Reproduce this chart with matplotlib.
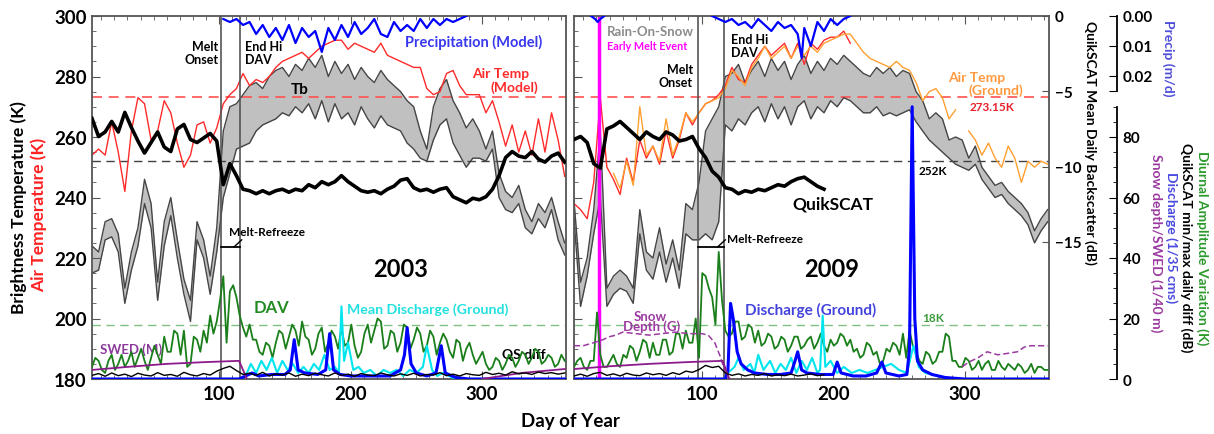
import numpy as np
import matplotlib
matplotlib.use('Agg')
import matplotlib.pyplot as plt
from matplotlib.ticker import MultipleLocator, FixedLocator

plt.rcParams['font.family'] = ['Lato', 'DejaVu Sans']
plt.rcParams['font.weight'] = 'bold'

nan = np.nan

# ---------------- data (5 day steps unless given) ----------------
days = np.arange(3, 364, 5)
days_half = np.arange(3, 364, 2.5)

# 2003
qs_03 = [-6.8, -8.0, -7.7, -7.0, -7.7, -6.4, -7.4, -8.3, -9.1, -8.4,
         -7.7, -8.7, -9.0, -7.5, -7.2, -8.2, -8.4, -8.1, -7.8, -8.3,
         -11.2, -9.8, -10.6, -11.5, -11.6, -11.8, -11.6, -11.8, -11.6, -11.5,
         -11.7, -11.5, -11.6, -11.2, -11.4, -11.0, -11.2, -11.0, -10.6, -11.0,
         -11.3, -11.6, -11.7, -11.6, -11.8, -11.5, -11.3, -10.9, -10.8, -11.4,
         -11.6, -11.5, -11.7, -11.5, -11.4, -12.0, -12.2, -12.4, -12.1, -12.2,
         -12.0, -11.5, -10.6, -9.4, -9.0, -9.3, -9.4, -9.0, -9.5, -9.7,
         -9.3, -9.1, -9.7]
air_03 = [254, 256, 254, 265, 255, 242, 262, 273, 271, 259,
          262, 272, 268, 258, 250, 254, 264, 265, 258, 263,
          271, 274, 276, 281, 277, 279, 278, 280, 283, 285,
          286, 287, 288, 286, 288, 290, 291, 292, 292, 289,
          291, 290, 289, 288, 291, 287, 286, 285, 284, 283,
          283, 276, 274, 275, 281, 282, 277, 274, 274, 274,
          268, 272, 265, 257, 264, 255, 262, 254, 266, 255,
          268, 259, 247]
tb_hi_03 = [224, 222, 232, 233, 228, 210, 222, 230, 246, 238,
            212, 232, 240, 226, 213, 206, 232, 226, 214, 230,
            262, 270, 271, 274, 277, 278, 276, 280, 282, 283,
            280, 284, 282, 286, 283, 287, 280, 285, 281, 284,
            279, 283, 280, 278, 282, 279, 277, 275, 272, 270,
            262, 256, 270, 276, 279, 272, 268, 263, 266, 262,
            256, 262, 248, 242, 240, 244, 236, 232, 238, 235,
            240, 232, 225]
tb_lo_03 = [215, 216, 226, 227, 222, 205, 216, 224, 238, 230,
            206, 224, 234, 220, 208, 199, 226, 220, 208, 222,
            240, 248, 256, 257, 258, 262, 264, 265, 266, 268,
            267, 270, 268, 271, 266, 272, 265, 271, 266, 268,
            264, 270, 266, 263, 267, 264, 263, 262, 258, 256,
            253, 252, 259, 264, 266, 258, 254, 250, 253, 253,
            252, 256, 240, 236, 235, 238, 230, 228, 233, 230,
            236, 226, 221]
# diurnal amplitude variation, 2.5 day steps
dav_03 = [4, 7, 6, 3, 2, 6, 8, 3, 5, 8, 4, 6, 9, 4, 7, 10, 6, 3, 7, 11,
          8, 5, 14, 9, 9, 16, 15, 8, 16, 4, 5, 14, 13, 9, 16, 12, 21, 15, 19, 26,
          34, 12, 29, 31, 27, 21, 17, 14, 18, 13, 13, 9, 8, 12, 11, 7, 12, 16, 15, 10,
          14, 18, 16, 11, 19, 14, 13, 8, 10, 15, 17, 9, 12, 16, 14, 10, 17, 11, 12, 18,
          11, 7, 9, 15, 18, 12, 16, 20, 19, 10, 11, 16, 15, 9, 12, 18, 17, 10, 13, 17,
          15, 9, 11, 16, 14, 8, 12, 15, 13, 9, 7, 13, 12, 6, 10, 12, 8, 5, 7, 9,
          5, 3, 4, 7, 6, 3, 5, 8, 7, 4, 6, 9, 8, 5, 7, 10, 9, 5, 6, 8,
          7, 4, 5, 8, 6]
qsd_03 = [1.2, 1.8, 0.9, 2.0, 1.1, 1.6, 0.8, 1.9, 1.3, 1.0,
          2.1, 1.2, 1.5, 0.9, 2.2, 1.4, 1.0, 1.8, 1.3, 2.6,
          3.5, 4.2, 2.8, 1.5, 1.9, 1.2, 2.2, 1.0, 1.7, 1.3,
          2.0, 0.9, 1.6, 1.1, 1.9, 1.4, 1.0, 2.0, 1.2, 1.6,
          0.9, 1.8, 1.3, 1.1, 2.0, 1.4, 1.0, 1.7, 1.2, 1.9,
          1.0, 1.5, 1.3, 2.1, 1.1, 1.6, 1.0, 1.8, 1.4, 1.2,
          2.2, 1.5, 1.9, 1.3, 2.4, 1.7, 2.0, 1.5, 2.3, 1.8,
          2.1, 1.6, 2.0]
precip_days_03 = np.arange(103, 289, 5)
precip_03 = [0.001, 0.002, 0.001, 0.003, 0.002, 0.006, 0.003, 0.007, 0.004, 0.008,
             0.003, 0.009, 0.004, 0.007, 0.005, 0.012, 0.004, 0.008, 0.003, 0.007,
             0.002, 0.006, 0.004, 0.001, 0.006, 0.007, 0.002, 0.005, 0.003, 0.005,
             0.001, 0.004, 0.001, 0.003, 0.001, 0.002, 0.001, 0.0]
dis_days_03 = [3, 115, 120, 125, 130, 140, 150, 154, 157, 160, 165, 175, 181, 184, 187, 192,
               200, 210, 220, 230, 238, 241, 243, 246, 250, 258, 265, 269, 272, 280, 290, 364]
dis_03 = [0, 0, 1, 2, 1, 1.5, 1.5, 3, 13, 3, 2, 1.5, 3, 15, 3, 1.5,
          1, 1, 1, 1, 3, 8, 17, 5, 2, 1, 2, 11, 2, 0.5, 0, 0]
mdis_days_03 = [3, 115, 120, 124, 128, 132, 136, 140, 144, 148, 152, 156, 160, 164, 168,
                172, 176, 180, 184, 188, 191, 193, 195, 198, 202, 206, 210, 215, 220, 225,
                230, 235, 240, 245, 250, 255, 258, 262, 266, 270, 275, 280, 364]
mdis_03 = [0, 0, 1, 5, 2, 6, 3, 7, 2, 6, 3, 5, 2, 4, 2,
           5, 3, 8, 3, 4, 2, 24, 6, 12, 3, 4, 2, 3, 1, 3,
           2, 3, 1, 3, 2, 4, 11, 3, 1, 2, 1, 0, 0]
swed_days_03 = [3, 30, 60, 90, 115, 121, 200, 300, 330, 363]
swed_03 = [3.0, 4.0, 5.0, 5.6, 6.0, 0, nan, 0, 2.0, 3.3]

# 2009
qs_days_09 = np.arange(3, 194, 5)
qs_09 = [-8.2, -8.0, -8.4, -9.8, -10.1, -7.5, -7.3, -7.0, -7.4, -7.8,
         -8.2, -7.7, -8.0, -8.2, -7.7, -7.9, -8.3, -8.2, -8.0, -8.8,
         -9.4, -10.3, -10.7, -11.4, -11.5, -11.8, -11.6, -11.7, -11.5, -11.6,
         -11.4, -11.2, -11.3, -11.0, -10.8, -10.7, -11.0, -11.3, -11.5]
qsd_09 = [1.0, 1.6, 0.9, 1.8, 2.2, 1.2, 1.7, 1.0, 1.9, 1.3,
          1.1, 2.0, 1.4, 1.8, 1.2, 2.1, 1.5, 2.6, 2.2, 3.1,
          4.5, 3.8, 4.2, 2.0, 1.2, 1.7, 1.0, 1.5, 1.2, 1.8,
          1.0, 1.4, 1.1, 1.6, 1.0, 1.3, 1.7, 1.1, 1.4]
air_days_09 = np.arange(3, 214, 5)
air_09 = [238, 236, 233, 245, 273, 250, 246, 241, 253, 245,
          259, 253, 257, 251, 262, 253, 259, 268, 264, 268,
          271, 272, 274, 277, 283, 279, 278, 284, 287, 290,
          287, 289, 291, 286, 291, 284, 291, 289, 292, 293,
          293, 295, 291]
gair_days_09 = np.arange(33, 364, 5)
gair_09 = [248, 243, 252, 244, 270, 254, 257, 252, 266, 254,
           260, 268, 265, 268, 271, 272, 273, 276, 282, 280,
           277, 283, 286, 290, 286, 288, 290, 286, 290, 287,
           290, 288, 291, 292, 293, 294, 294, 291, 288, 286,
           285, 284, 283, 285, 283, 282, 278, 272, 275, 276,
           273, 266, 269, nan, 262, 259, 254, 258, 253, 250,
           257, 253, 245, 252, 250, 252, 251]
tb_hi_09 = [239, 212, 220, 236, 262, 210, 214, 216, 214, 210,
            236, 222, 220, 230, 218, 226, 216, 238, 236, 245,
            262, 266, 270, 280, 281, 284, 278, 282, 285, 280,
            286, 282, 285, 279, 284, 287, 281, 285, 282, 286,
            284, 287, 285, 283, 281, 280, 283, 281, 283, 280,
            282, 281, 275, 272, 266, 268, 266, 259, 260, 259,
            253, 257, 250, 247, 244, 245, 242, 240, 238, 235,
            229, 233, 236]
tb_lo_09 = [233, 204, 214, 228, 240, 204, 208, 210, 209, 205,
            228, 216, 213, 222, 212, 220, 210, 228, 226, 226,
            228, 226, 232, 264, 262, 266, 264, 268, 270, 265,
            271, 266, 270, 264, 270, 272, 266, 270, 268, 272,
            270, 273, 272, 270, 268, 268, 270, 267, 268, 267,
            268, 269, 265, 262, 259, 257, 255, 253, 251, 250,
            249, 251, 246, 243, 240, 241, 238, 236, 234, 231,
            225, 229, 232]
# diurnal amplitude variation, 2.5 day steps
dav_09 = [4, 6, 7, 4, 3, 6, 6, 22, 8, 4, 4, 6, 8, 5, 4, 8, 7, 11, 10, 6,
          9, 13, 12, 7, 12, 8, 8, 13, 13, 8, 9, 15, 15, 10, 16, 12, 12, 20, 7, 35,
          34, 30, 27, 18, 42, 26, 16, 14, 15, 19, 19, 13, 14, 18, 17, 12, 16, 11, 12, 15,
          14, 10, 11, 14, 13, 9, 11, 14, 14, 10, 11, 13, 14, 10, 12, 15, 11, 9, 13, 11,
          12, 15, 14, 11, 13, 9, 10, 7, 8, 12, 11, 8, 9, 5, 6, 10, 9, 12, 11, 8,
          15, 7, 16, 11, 9, 6, 5, 9, 8, 5, 6, 9, 9, 15, 14, 6, 6, 4, 4, 7,
          6, 3, 4, 6, 3, 5, 6, 3, 3, 6, 4, 3, 5, 4, 3, 5, 4, 2, 3, 5,
          2, 4, 4, 3, 3]
precip_days_09 = [16, 19, 21, 23, 26, 60, 108, 113, 118, 123, 128, 133, 138, 143, 148, 153,
                  158, 163, 168, 173, 176, 178, 183, 188, 193, 198, 203, 208, 213]
precip_09 = [0, 0.001, 0.002, 0.001, 0, nan, 0, 0.001, 0.002, 0.001, 0.003, 0.002, 0.004, 0.001,
             0.003, 0.005, 0.002, 0.004, 0.003, 0.006, 0.014, 0.004, 0.010, 0.002, 0.005,
             0.001, 0.003, 0.001, 0]
dis_days_09 = [3, 118, 120, 122, 124, 127, 130, 135, 140, 150, 160, 168, 171, 173, 176, 180,
               190, 200, 203, 206, 215, 225, 233, 237, 240, 250, 256, 258, 260, 262, 264, 268,
               275, 285, 300, 364]
dis_09 = [0, 0, 3, 25, 20, 9, 5, 3, 2, 1.5, 1.5, 2, 6, 9, 3, 2,
          1.5, 1.5, 5.6, 2, 1, 1, 2, 5.6, 2, 1, 1.5, 10, 90, 20, 6, 3,
          1.5, 0.5, 0, 0]
mdis_days_09 = [3, 117, 120, 125, 128, 132, 137, 140, 143, 147, 152, 156, 160, 164, 168, 172,
                176, 180, 184, 188, 190, 192, 194, 198, 203, 208, 214, 220, 226, 232, 238, 244,
                250, 256, 261, 265, 270, 280, 290, 364]
mdis_09 = [0, 0, 2, 4, 7, 3, 5, 2, 8, 3, 6, 2, 5, 3, 7, 2,
           6, 3, 7, 2, 3, 21, 4, 6, 2, 4, 2, 3, 2, 3, 4, 5,
           3, 2, 11, 4, 2, 1, 0, 0]
snow_days_09 = [3, 10, 18, 25, 30, 35, 40, 50, 60, 70, 80, 90, 100, 105, 110, 114, 119, 122,
                200, 298, 303, 310, 317, 325, 333, 340, 345, 350, 357, 363]
snow_09 = [11, 11, 12, 13, 14, 14.5, 15.5, 15, 14.5, 15, 15.5, 15, 15, 14.5, 12, 7.6, 1, 0,
           nan, 4, 5.6, 7, 9, 8, 8.5, 9, 10.5, 11, 11, 11]
swed_days_09 = [3, 30, 60, 90, 116, 121]
swed_09 = [3.3, 4.2, 5.0, 5.6, 6.0, 0]

melt_onset = {2003: 101, 2009: 97}
end_hi_dav = {2003: 116, 2009: 117}
early_melt_09 = 22

# ---------------- figure ----------------
W, H = 1214, 435
fig = plt.figure(figsize=(W / 100, H / 100), dpi=100)
axL = fig.add_axes([92 / W, 1 - 380 / H, 474 / W, 363 / H])
axR = fig.add_axes([574 / W, 1 - 380 / H, 475 / W, 363 / H])

GRAY = '#555555'


def setup(ax):
    ax.set_xlim(3, 364)
    ax.set_ylim(180, 300)
    ax.set_xticks([100, 200, 300])
    ax.xaxis.set_minor_locator(MultipleLocator(10))
    ax.yaxis.set_major_locator(MultipleLocator(20))
    ax.yaxis.set_minor_locator(MultipleLocator(5))
    ax.tick_params(which='both', direction='in', top=True, right=True, color=GRAY)
    ax.tick_params(which='major', length=6, labelsize=13.5, pad=4)
    ax.tick_params(which='minor', length=3)
    for s in ax.spines.values():
        s.set_color(GRAY)
        s.set_linewidth(1.3)
    for lab in ax.get_xticklabels() + ax.get_yticklabels():
        lab.set_fontweight('bold')
    ax.axhline(273.15, color='#ff5050', lw=1.2, dashes=(6, 4))
    ax.axhline(252, color='#404040', lw=1.0, dashes=(6, 4))
    ax.axhline(198, color='#80c080', lw=1.0, dashes=(6, 4))
    axq = ax.twinx()
    axq.set_ylim(-24.1, 0)
    axp = ax.twinx()
    axp.set_ylim(0.121, 0)
    axd = ax.twinx()
    axd.set_ylim(0, 120)
    for a in (axq, axp, axd):
        for s in a.spines.values():
            s.set_visible(False)
        a.set_yticks([])
    return axq, axp, axd


qL, pL, dL = setup(axL)
qR, pR, dR = setup(axR)
axR.tick_params(labelleft=False)


def melt_marks(ax, year, txt_day, txt_k):
    ax.axvline(melt_onset[year], color=GRAY, lw=1.2)
    ax.axvline(end_hi_dav[year], color=GRAY, lw=1.2)
    ax.plot([melt_onset[year], end_hi_dav[year]], [223.6, 223.6], color='black', lw=1.3)
    ax.plot([end_hi_dav[year] - 5, end_hi_dav[year] + 1], [223.6, 226.0], color='black', lw=1)
    ax.text(txt_day, txt_k, 'Melt-Refreeze', fontsize=8.5, ha='left', va='center')


# ---- 2003 ----
axL.fill_between(days, tb_lo_03, tb_hi_03, color='#c0c0c0', lw=0)
axL.plot(days, tb_hi_03, color='#454545', lw=1)
axL.plot(days, tb_lo_03, color='#454545', lw=1)
axL.plot(days, air_03, color='#ff2a2a', lw=1)
melt_marks(axL, 2003, 107.5, 228.6)
qL.plot(days, qs_03, color='black', lw=2.6)
pL.plot(precip_days_03, precip_03, color='#0000ff', lw=1.6)
dL.plot(days_half, dav_03, color='#1a7f1a', lw=1.3)
dL.plot(mdis_days_03, mdis_03, color='#00e5ee', lw=1.5)
dL.plot(dis_days_03, dis_03, color='#0000ff', lw=2.2)
dL.plot(swed_days_03, swed_03, color='#8b1a8b', lw=1.3)
dL.plot(days, qsd_03, color='black', lw=1)

axL.text(99.2, 288, 'Melt\nOnset', fontsize=9, ha='right', va='center', linespacing=1.1)
axL.text(119.5, 288, 'End Hi\nDAV', fontsize=9, ha='left', va='center', linespacing=1.1)
axL.text(294, 291.7, 'Precipitation (Model)', fontsize=10.5, color='#3838ee', ha='center', va='center')
axL.text(314, 281.2, 'Air Temp', fontsize=10, color='#ff2a2a', ha='center', va='center')
axL.text(325, 276.5, '(Model)', fontsize=10, color='#ff2a2a', ha='center', va='center')
axL.text(161, 275.8, 'Tb', fontsize=11, ha='center', va='center')
axL.text(238, 216.4, '2003', fontsize=17, ha='center', va='center')
axL.text(139.5, 203.8, 'DAV', fontsize=12, color='#228b22', ha='center', va='center')
axL.text(259, 203.1, 'Mean Discharge (Ground)', fontsize=10.2, color='#22e0e0', ha='center', va='center')
axL.text(33, 190, 'SWED (M)', fontsize=9.5, color='#8b3a9b', ha='center', va='center')
axL.text(332, 188.3, 'QS diff', fontsize=10, ha='center', va='center')

# ---- 2009 ----
axR.fill_between(days, tb_lo_09, tb_hi_09, color='#c0c0c0', lw=0)
axR.plot(days, tb_hi_09, color='#454545', lw=1)
axR.plot(days, tb_lo_09, color='#454545', lw=1)
axR.plot(air_days_09, air_09, color='#ff2a2a', lw=1)
axR.plot(gair_days_09, gair_09, color='#ffa030', lw=1)
axR.axvline(early_melt_09, color='#ff00ff', lw=2.5)
melt_marks(axR, 2009, 119.5, 226.3)
qR.plot(qs_days_09, qs_09, color='black', lw=2.6)
pR.plot(precip_days_09, precip_09, color='#0000ff', lw=1.6)
dR.plot(days_half, dav_09, color='#1a7f1a', lw=1.3)
dR.plot(mdis_days_09, mdis_09, color='#00e5ee', lw=1.5)
dR.plot(dis_days_09, dis_09, color='#0000ff', lw=2.2)
dR.plot(snow_days_09, snow_09, color='#9b3aa0', lw=1.1, dashes=(4, 2))
dR.plot(swed_days_09, swed_09, color='#8b1a8b', lw=1.3)
dR.plot(qs_days_09, qsd_09, color='black', lw=1)

axR.text(61, 295, 'Rain-On-Snow', fontsize=9.5, color='#8c8c8c', ha='center', va='center')
axR.text(58.5, 290.4, 'Early Melt Event', fontsize=7.8, color='#ff00ff', ha='center', va='center')
axR.text(93.5, 280.2, 'Melt\nOnset', fontsize=9, ha='right', va='center', linespacing=1.1)
axR.text(122, 290.4, 'End Hi\nDAV', fontsize=9, ha='left', va='center', linespacing=1.1)
axR.text(308.7, 279.8, 'Air Temp', fontsize=10, color='#ff9a40', ha='center', va='center')
axR.text(324, 275.5, '(Ground)', fontsize=10, color='#ff9a40', ha='center', va='center')
axR.text(321, 270.2, '273.15K', fontsize=8.5, color='#e8202a', ha='center', va='center')
axR.text(276, 248.8, '252K', fontsize=8.5, ha='center', va='center')
axR.text(200, 237.9, 'QuikSCAT', fontsize=12.5, ha='center', va='center')
axR.text(199, 216.4, '2009', fontsize=17, ha='center', va='center')
axR.text(183, 203.1, 'Discharge (Ground)', fontsize=11, color='#4444dd', ha='center', va='center')
axR.text(61, 200.8, 'Snow', fontsize=9.5, color='#9b3aa0', ha='center', va='center')
axR.text(62, 197.5, 'Depth (G)', fontsize=9.5, color='#9b3aa0', ha='center', va='center')
axR.text(276, 200.2, '18K', fontsize=8.5, color='#3a9a3a', ha='center', va='center')

# ---- right hand axes of the 2009 panel ----
qR.set_yticks([0, -5, -10, -15])
qR.tick_params(axis='y', direction='in', length=5, labelsize=11, pad=4, color=GRAY)
for lab in qR.get_yticklabels():
    lab.set_fontweight('bold')

for a in (pR, dR):
    a.spines['right'].set_visible(True)
    a.spines['right'].set_position(('outward', 49))
    a.spines['right'].set_linewidth(1.3)
pR.spines['right'].set_bounds(0, 0.025)
pR.set_yticks([0, 0.01, 0.02, 0.025])
pR.set_yticklabels(['0.00', '0.01', '0.02', ''])
pR.tick_params(axis='y', direction='in', length=6, labelsize=11, pad=4)
dR.spines['right'].set_bounds(0, 90)
dR.set_yticks([0, 20, 40, 60, 80])
dR.yaxis.set_minor_locator(FixedLocator([5, 10, 15, 25, 30, 35, 45, 50, 55, 65, 70, 75, 85, 90]))
dR.tick_params(axis='y', which='major', direction='in', length=6, labelsize=11, pad=4)
dR.tick_params(axis='y', which='minor', direction='in', length=3)
for lab in pR.get_yticklabels() + dR.get_yticklabels():
    lab.set_fontweight('bold')

# ---- axis titles ----
fig.text(19 / W, 1 - 208 / H, 'Brightness Temperature (K)', rotation=90, fontsize=12.5,
         ha='center', va='center')
fig.text(39 / W, 1 - 215 / H, 'Air Temperature (K)', rotation=90, fontsize=12.5,
         color='#ff2020', ha='center', va='center')
fig.text(570 / W, 1 - 422 / H, 'Day of Year', fontsize=13.5, ha='center', va='center')
fig.text(1090 / W, 1 - 143 / H, 'QuikSCAT Mean Daily Backscatter (dB)', rotation=270,
         fontsize=10, ha='center', va='center')
fig.text(1168 / W, 1 - 58 / H, 'Precip (m/d)', rotation=270, fontsize=10,
         color='#4d4dd9', ha='center', va='center')
fig.text(1202 / W, 1 - 248 / H, 'Diurnal Amplitude Variation (K)', rotation=270, fontsize=10,
         color='#2a9a2a', ha='center', va='center')
fig.text(1186 / W, 1 - 248 / H, 'QuikSCAT min/max daily diff (dB)', rotation=270, fontsize=10,
         ha='center', va='center')
fig.text(1171 / W, 1 - 238 / H, 'Discharge (1/35 cms)', rotation=270, fontsize=10,
         color='#4a4ae0', ha='center', va='center')
fig.text(1156 / W, 1 - 243 / H, 'Snow depth/SWED (1/40 m)', rotation=270, fontsize=10,
         color='#9b3aa0', ha='center', va='center')

fig.savefig('out.png', dpi=100)
